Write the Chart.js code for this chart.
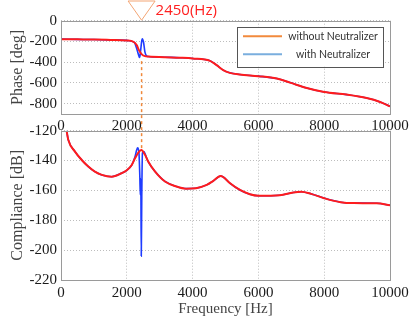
<!DOCTYPE html>
<html>
<head>
<meta charset="utf-8">
<script src="https://cdn.jsdelivr.net/npm/chart.js@4.4.0/dist/chart.umd.min.js"></script>
<style>
  html, body { margin: 0; padding: 0; background: #fff; }
  #wrap { position: relative; width: 409px; height: 327px; }
  canvas { position: absolute; left: 0; top: 0; }
</style>
</head>
<body>
<div id="wrap">
  <canvas id="phase" width="409" height="327"></canvas>
  <canvas id="comp" width="409" height="327"></canvas>
</div>
<script>
// tick labels
const freqTicks = [0, 2000, 4000, 6000, 8000, 10000];
const phaseTicks = [0, -200, -400, -600, -800];
const complianceTicks = [-120, -140, -160, -180, -200, -220];
const seriesLabels = ['without Neutralizer', 'with Neutralizer'];

// marker at the neutralizer frequency
const markerFreq = 2450;
const markerPhase = -390;
const markerCompliance = -133;

// phase [deg]
const phaseFreqWithout = [0, 500, 1000, 1500, 2000, 2200, 2300, 2370, 2450, 2550, 2650, 3160, 3620, 4000, 4530, 4730, 4930, 5130, 5430, 6000, 6560, 6960, 7470, 8000, 8680, 9290, 9700, 10000];
const phaseWithout = [-178, -180, -182, -185, -190, -203, -235, -284, -322, -342, -345, -352, -357, -364, -387, -429, -477, -503, -519, -535, -558, -597, -649, -688, -713, -746, -784, -826];
const phaseFreqWith = [0, 500, 1000, 1500, 2000, 2230, 2300, 2360, 2390, 2420, 2450, 2470, 2510, 2550, 2600, 2650, 3160, 3620, 4000, 4530, 4730, 4930, 5130, 5430, 6000, 6560, 6960, 7470, 8000, 8680, 9290, 9700, 10000];
const phaseWith = [-178, -180, -182, -185, -190, -210, -268, -332, -355, -290, -203, -175, -210, -300, -340, -345, -352, -357, -364, -387, -429, -477, -503, -519, -535, -558, -597, -649, -688, -713, -746, -784, -826];

// compliance [dB]
const compFreqWithout = [170, 220, 425, 630, 830, 1030, 1240, 1540, 1840, 2000, 2150, 2250, 2350, 2440, 2550, 2650, 2860, 3160, 3500, 3800, 4100, 4430, 4630, 4850, 4930, 5140, 5440, 5740, 6000, 6650, 7060, 7300, 7600, 8000, 8500, 8900, 9600, 10000];
const compWithout = [-120, -126, -134, -139.6, -144, -147.4, -149.6, -150.8, -148.5, -146.5, -143, -138.5, -134.7, -133, -136, -140.7, -147.4, -154, -157.3, -158.8, -158.5, -156.3, -153.6, -150.3, -151, -155.2, -159.7, -162.6, -163.6, -163.2, -161.4, -160.9, -162.3, -165.2, -167.9, -168.5, -168.6, -169.9];
const compFreqWith = [170, 220, 425, 630, 830, 1030, 1240, 1540, 1840, 2000, 2150, 2250, 2300, 2330, 2370, 2395, 2410, 2425, 2440, 2455, 2475, 2520, 2580, 2650, 2860, 3160, 3500, 3800, 4100, 4430, 4630, 4850, 4930, 5140, 5440, 5740, 6000, 6650, 7060, 7300, 7600, 8000, 8500, 8900, 9600, 10000];
const compWith = [-120, -126, -134, -139.6, -144, -147.4, -149.6, -150.8, -148.5, -146.5, -143, -137.5, -133, -131.5, -135, -150, -163, -152, -204, -165, -135, -134, -137, -140.7, -147.4, -154, -157.3, -158.8, -158.5, -156.3, -153.6, -150.3, -151, -155.2, -159.7, -162.6, -163.6, -163.2, -161.4, -160.9, -162.3, -165.2, -167.9, -168.5, -168.6, -169.9];

const toPoints = (xs, ys) => xs.map((x, i) => ({x: x, y: ys[i]}));

const RED = '#ff1c1c';
const BLUE = '#1f3cff';
const tickFont = {family: 'Liberation Serif', size: 15};
const gridOpts = {color: '#bdbdbd', lineWidth: 1, drawTicks: false};
const borderOpts = {display: false, dash: [1, 2]};
const plain = v => String(v);

const setTicks = (vals) => (scale) => { scale.ticks = vals.map(v => ({value: v})); };

// grey box around each plot
const frame = {
    id: 'frame',
    afterDatasetsDraw(chart) {
        const a = chart.chartArea;
        const ctx = chart.ctx;
        ctx.save();
        ctx.strokeStyle = '#9a9a9a';
        ctx.lineWidth = 1;
        ctx.strokeRect(Math.round(a.left) + 0.5, Math.round(a.top) + 0.5, Math.round(a.width), Math.round(a.height));
        ctx.restore();
    }
};

const lineDatasets = (fw, yw, fn, yn) => [
    {label: seriesLabels[0], data: toPoints(fw, yw), borderColor: RED, borderWidth: 2,
     pointRadius: 0, cubicInterpolationMode: 'monotone'},
    {label: seriesLabels[1], data: toPoints(fn, yn), borderColor: BLUE, borderWidth: 1.6,
     pointRadius: 0, cubicInterpolationMode: 'monotone'}
];

// legend in the phase plot
const boxLegend = {
    id: 'boxLegend',
    afterDraw(chart) {
        const ctx = chart.ctx;
        const a = chart.chartArea;
        const w = 146, h = 40;
        const x0 = a.right - 7 - w, y0 = a.top + 6;
        ctx.save();
        ctx.fillStyle = '#fff';
        ctx.fillRect(x0, y0, w, h);
        ctx.strokeStyle = '#555';
        ctx.lineWidth = 1;
        ctx.strokeRect(Math.round(x0) + 0.5, Math.round(y0) + 0.5, w, h);
        const colors = ['#f28a3c', '#7aaede'];
        const rows = [y0 + 9.5, y0 + 27.5];
        ctx.font = '10.5px Lato';
        ctx.fillStyle = '#333';
        ctx.textAlign = 'center';
        ctx.textBaseline = 'middle';
        rows.forEach((y, i) => {
            ctx.strokeStyle = colors[i];
            ctx.lineWidth = 2;
            ctx.beginPath();
            ctx.moveTo(x0 + 6, y);
            ctx.lineTo(x0 + 45, y);
            ctx.stroke();
            ctx.fillText(seriesLabels[i], x0 + 96, y + 0.5);
        });
        ctx.restore();
    }
};

const phaseChart = new Chart(document.getElementById('phase').getContext('2d'), {
    type: 'line',
    data: {datasets: lineDatasets(phaseFreqWithout, phaseWithout, phaseFreqWith, phaseWith)},
    options: {
        responsive: false,
        animation: false,
        layout: {padding: {left: 0, right: 19, top: 20.7, bottom: 193}},
        plugins: {legend: {display: false}, tooltip: {enabled: false}},
        scales: {
            x: {
                type: 'linear', min: 0, max: 10000,
                afterBuildTicks: setTicks(freqTicks),
                afterFit: s => { s.height = 20; s.paddingLeft = 0; s.paddingRight = 0; },
                grid: gridOpts, border: borderOpts,
                ticks: {font: tickFont, color: '#1a1a1a', padding: 3, maxRotation: 0, callback: plain}
            },
            y: {
                min: -900, max: 0,
                afterBuildTicks: setTicks(phaseTicks),
                afterFit: s => { s.width = 61; s.paddingTop = 0; s.paddingBottom = 0; },
                grid: gridOpts, border: borderOpts,
                ticks: {font: tickFont, color: '#1a1a1a', padding: 4, callback: plain},
                title: {display: true, text: 'Phase [deg]', font: {family: 'Liberation Serif', size: 16},
                        color: '#444', padding: {top: 8, bottom: 0}}
            }
        }
    },
    plugins: [frame, boxLegend]
});

// triangle, label and dashed line at 2450 Hz
const marker = {
    id: 'marker',
    afterDraw(chart) {
        const ctx = chart.ctx;
        const top = phaseChart.chartArea.top;
        const x = chart.scales.x.getPixelForValue(markerFreq);
        const y1 = phaseChart.scales.y.getPixelForValue(markerPhase);
        const y2 = chart.scales.y.getPixelForValue(markerCompliance);
        ctx.save();
        ctx.strokeStyle = '#f0883a';
        ctx.lineWidth = 1.5;
        ctx.setLineDash([3, 3]);
        ctx.beginPath();
        ctx.moveTo(x, y1);
        ctx.lineTo(x, y2);
        ctx.stroke();
        ctx.setLineDash([]);
        ctx.strokeStyle = '#f3a574';
        ctx.lineWidth = 1;
        ctx.beginPath();
        ctx.moveTo(x - 13.5, 1);
        ctx.lineTo(x + 13.5, 1);
        ctx.lineTo(x, top - 0.5);
        ctx.closePath();
        ctx.stroke();
        ctx.fillStyle = '#ff2020';
        ctx.font = '15px "Open Sans"';
        ctx.textAlign = 'left';
        ctx.textBaseline = 'middle';
        ctx.fillText(markerFreq + '(Hz)', x + 14, 11);
        ctx.restore();
    }
};

new Chart(document.getElementById('comp').getContext('2d'), {
    type: 'line',
    data: {datasets: lineDatasets(compFreqWithout, compWithout, compFreqWith, compWith)},
    options: {
        responsive: false,
        animation: false,
        layout: {padding: {left: 0, right: 19, top: 130.7, bottom: 0}},
        plugins: {legend: {display: false}, tooltip: {enabled: false}},
        scales: {
            x: {
                type: 'linear', min: 0, max: 10000,
                afterBuildTicks: setTicks(freqTicks),
                afterFit: s => { s.height = 47; s.paddingLeft = 0; s.paddingRight = 0; },
                grid: gridOpts, border: borderOpts,
                ticks: {font: tickFont, color: '#1a1a1a', padding: 4, maxRotation: 0, callback: plain},
                title: {display: true, text: 'Frequency [Hz]', font: {family: 'Liberation Serif', size: 15},
                        color: '#444', padding: {top: 0, bottom: 9}}
            },
            y: {
                min: -220, max: -120,
                afterBuildTicks: setTicks(complianceTicks),
                afterFit: s => { s.width = 61; s.paddingTop = 0; s.paddingBottom = 0; },
                grid: gridOpts, border: borderOpts,
                ticks: {font: tickFont, color: '#1a1a1a', padding: 4, callback: plain},
                title: {display: true, text: 'Compliance [dB]', font: {family: 'Liberation Serif', size: 16},
                        color: '#444', padding: {top: 8, bottom: 0}}
            }
        }
    },
    plugins: [frame, marker]
});
</script>
</body>
</html>
